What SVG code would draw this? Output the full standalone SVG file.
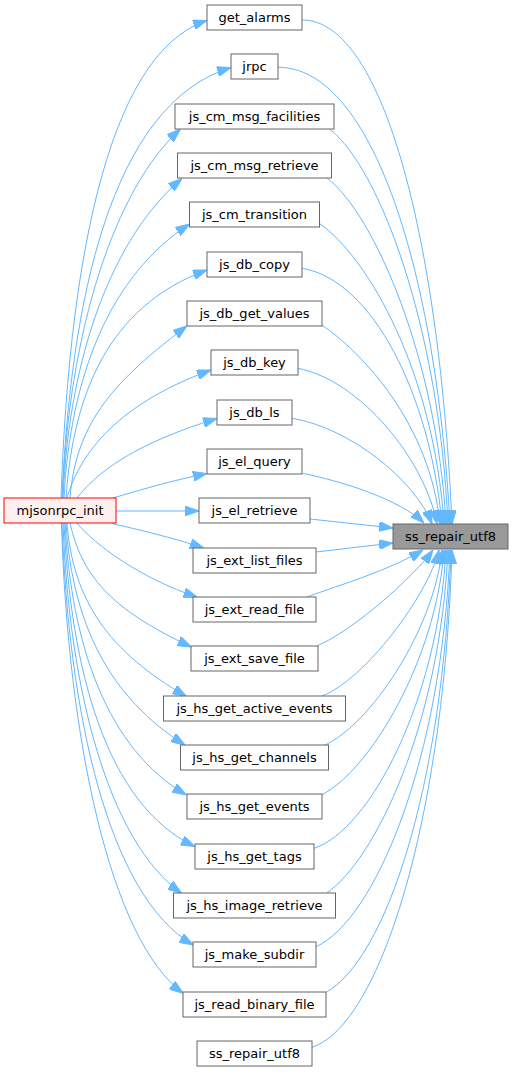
<svg xmlns="http://www.w3.org/2000/svg" width="513" height="1072" viewBox="0 0 513 1072">
<style>
.n rect{fill:#ffffff;stroke:#666666;stroke-width:1}
.n text{font-family:"DejaVu Sans","Liberation Sans",sans-serif;font-size:13px;fill:#000000;text-anchor:middle}
#mjsonrpc_init rect{fill:#fff0f0;stroke:#ff0000}
#target rect{fill:#999999;stroke:#666666}
#edges path{fill:none;stroke:#63b8ff;stroke-width:1;marker-end:url(#ah)}
</style>
<defs>
<marker id="ah" markerUnits="userSpaceOnUse" viewBox="0 0 14 10" refX="14" refY="5" markerWidth="14" markerHeight="10" orient="auto">
<path d="M0,0 L14,5 L0,10 z" fill="#63b8ff" stroke="#63b8ff" stroke-width="1"/>
</marker>
</defs>
<rect width="513" height="1072" fill="#ffffff"/>
<g id="edges">
<path d="M61,498 C68.3,283.1 102.9,54.3 207,20.5"/>
<path d="M62,498 C70.5,304.3 109.8,104.5 231,67.5"/>
<path d="M62.5,498 C68.4,332 114.7,188.2 180.5,129"/>
<path d="M63,498 C69,354.2 113.6,235.9 182,178.5"/>
<path d="M64,498 C70.3,374.7 110.5,275.3 189.5,224"/>
<path d="M66,498 C73,395.4 107.6,306.2 207,270"/>
<path d="M70,498 C75.9,420.6 116.9,378.8 187,326"/>
<path d="M67,498 C78,460 110,406.7 211,370"/>
<path d="M77,498 C95,475 130,445 217,418.5"/>
<path d="M113,498 C140,490 170,481 207,473.5"/>
<path d="M116,511 L199,511"/>
<path d="M112,523.5 C140,530 170,537 204,548"/>
<path d="M77,523 C95,545 140,578 197.5,597.3"/>
<path d="M70,523 C82,575 109,608.5 191.5,647"/>
<path d="M67,523 C73,601 108.9,651.7 186.5,696.5"/>
<path d="M66,523 C72,622.9 109.3,697.7 185,745"/>
<path d="M65,523 C71.1,645.4 107.6,749.4 186.5,795"/>
<path d="M64,523 C70.6,668.6 106,804.9 195,846.5"/>
<path d="M63,523 C68.9,689.6 108.8,842.2 181.7,893.3"/>
<path d="M62,523 C68.6,712.9 108,895.75 193.3,945"/>
<path d="M61.5,523 C67.6,734.6 109.4,939.6 183.3,993.3"/>
<path d="M302.3,20 C384.6,20 440,246.8 452,524"/>
<path d="M278,67.3 C372.6,67.3 436.2,272.8 450,524"/>
<path d="M330,129.3 C380,169 439,327 448,524"/>
<path d="M327,178 C375,215 437,360 446,524"/>
<path d="M319.3,223.3 C369.3,258.3 434,374 444,524"/>
<path d="M302.3,268.3 C372.3,280.3 430,394 442,524"/>
<path d="M321.7,325 C362,352 430,424 440,524"/>
<path d="M297.7,368.3 C360,380 425,460 437,524"/>
<path d="M292.3,418.3 C350,428 415,480 432,524"/>
<path d="M302.7,473.3 C345,482 400,500 424,523"/>
<path d="M310,519 L393,528"/>
<path d="M316,552 L393,543"/>
<path d="M306.7,597 C340,585 390,570 423,550"/>
<path d="M316.7,646 C355,630 415,575 433,550"/>
<path d="M321.7,696 C365,680 428,595 439,550"/>
<path d="M324,745.5 C370,725 434,630 442,550"/>
<path d="M322.3,794.5 C370,770 436,660 444,550"/>
<path d="M314,848.3 C370,830 438,700 446,550"/>
<path d="M326.7,893 C375,860 440,725 448,550"/>
<path d="M316,946.7 C375,920 442,760 450,550"/>
<path d="M325.7,992.5 C385,960 443,790 451,550"/>
<path d="M312,1047.3 C380,1025 444,820 452,550"/>
</g>
<g id="mjsonrpc_init" class="n"><rect x="4" y="498" width="112" height="25"/><text x="60" y="514.5">mjsonrpc_init</text></g>
<g id="target" class="n"><rect x="393" y="524" width="115" height="25"/><text x="450.5" y="540.5">ss_repair_utf8</text></g>
<g id="n0" class="n"><rect x="207" y="5" width="95" height="25"/><text x="254.5" y="21.5">get_alarms</text></g>
<g id="n1" class="n"><rect x="231" y="54" width="47" height="25"/><text x="254.5" y="70.5">jrpc</text></g>
<g id="n2" class="n"><rect x="175" y="104" width="159" height="25"/><text x="254.5" y="120.5">js_cm_msg_facilities</text></g>
<g id="n3" class="n"><rect x="177.5" y="153" width="154" height="25"/><text x="254.5" y="169.5">js_cm_msg_retrieve</text></g>
<g id="n4" class="n"><rect x="189.5" y="202" width="130" height="25"/><text x="254.5" y="218.5">js_cm_transition</text></g>
<g id="n5" class="n"><rect x="207" y="252" width="95" height="25"/><text x="254.5" y="268.5">js_db_copy</text></g>
<g id="n6" class="n"><rect x="187" y="301" width="135" height="25"/><text x="254.5" y="317.5">js_db_get_values</text></g>
<g id="n7" class="n"><rect x="211" y="350" width="87" height="25"/><text x="254.5" y="366.5">js_db_key</text></g>
<g id="n8" class="n"><rect x="217" y="400" width="75" height="25"/><text x="254.5" y="416.5">js_db_ls</text></g>
<g id="n9" class="n"><rect x="207" y="449" width="95" height="25"/><text x="254.5" y="465.5">js_el_query</text></g>
<g id="n10" class="n"><rect x="199" y="498" width="111" height="25"/><text x="254.5" y="514.5">js_el_retrieve</text></g>
<g id="n11" class="n"><rect x="193" y="548" width="123" height="25"/><text x="254.5" y="564.5">js_ext_list_files</text></g>
<g id="n12" class="n"><rect x="193" y="597" width="123" height="25"/><text x="254.5" y="613.5">js_ext_read_file</text></g>
<g id="n13" class="n"><rect x="191" y="646" width="127" height="25"/><text x="254.5" y="662.5">js_ext_save_file</text></g>
<g id="n14" class="n"><rect x="163.5" y="696" width="182" height="25"/><text x="254.5" y="712.5">js_hs_get_active_events</text></g>
<g id="n15" class="n"><rect x="180.5" y="745" width="148" height="25"/><text x="254.5" y="761.5">js_hs_get_channels</text></g>
<g id="n16" class="n"><rect x="187" y="794" width="135" height="25"/><text x="254.5" y="810.5">js_hs_get_events</text></g>
<g id="n17" class="n"><rect x="195" y="844" width="119" height="25"/><text x="254.5" y="860.5">js_hs_get_tags</text></g>
<g id="n18" class="n"><rect x="173.5" y="893" width="162" height="25"/><text x="254.5" y="909.5">js_hs_image_retrieve</text></g>
<g id="n19" class="n"><rect x="193" y="942" width="123" height="25"/><text x="254.5" y="958.5">js_make_subdir</text></g>
<g id="n20" class="n"><rect x="183" y="992" width="143" height="25"/><text x="254.5" y="1008.5">js_read_binary_file</text></g>
<g id="n21" class="n"><rect x="197" y="1041" width="115" height="25"/><text x="254.5" y="1057.5">ss_repair_utf8</text></g>
</svg>
